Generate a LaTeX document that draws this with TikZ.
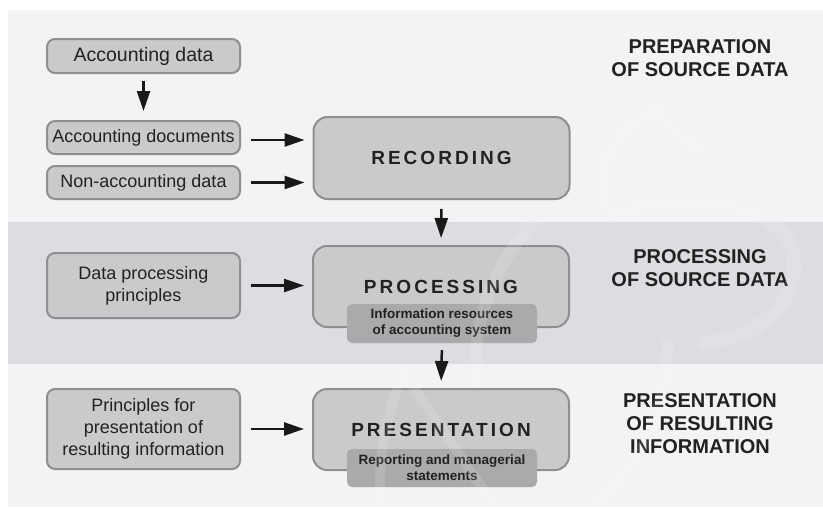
\documentclass[tikz,border=0pt]{standalone}
\usepackage{fontspec}
\setmainfont{Liberation Sans}
\newfontfamily\spaced[LetterSpace=16]{Liberation Sans}
\usetikzlibrary{arrows.meta}
\definecolor{panel}{HTML}{F2F3F5}
\definecolor{band}{HTML}{DCDDE0}
\definecolor{boxfill}{HTML}{C9CACC}
\definecolor{boxline}{HTML}{8E8F91}
\definecolor{subfill}{HTML}{A9AAAC}
\definecolor{ink}{HTML}{222222}
\tikzset{
  smallbox/.style={draw=boxline, line width=2pt, fill=boxfill, rounded corners=8pt,
    minimum width=193pt, inner sep=0pt, align=center, text=ink,
    font=\fontsize{18pt}{22pt}\selectfont},
  bigbox/.style={draw=boxline, line width=2pt, fill=boxfill, rounded corners=14pt,
    minimum width=256pt, minimum height=81pt, inner sep=0pt, text=ink,
    font=\spaced\bfseries\fontsize{19pt}{22pt}\selectfont},
  subbox/.style={fill=subfill, rounded corners=5pt, minimum width=190pt, inner sep=0pt,
    align=center, text=ink, font=\bfseries\fontsize{13.5pt}{16pt}\selectfont},
  sidelabel/.style={align=center, text=ink, inner sep=0pt,
    font=\bfseries\fontsize{20pt}{23pt}\selectfont},
  arr/.style={draw=black!90, line width=2.5pt, -{Triangle[length=20pt,width=13pt]}},
  wmark/.style={draw=white, opacity=0.13, line cap=round}
}
\begin{document}
\begin{tikzpicture}[x=1pt,y=-1pt]
\useasboundingbox (0,0) rectangle (823,507);
\fill[white] (0,0) rectangle (823,507);
\fill[panel] (8,10) rectangle (823,507);
\fill[band] (8,222) rectangle (823,364);

% left inputs
\node[smallbox, minimum height=34pt, font=\fontsize{19.5pt}{22pt}\selectfont] (acd) at (143.5,56) {Accounting data};
\node[smallbox, minimum height=33pt] (adoc) at (143.5,137.5) {Accounting documents};
\node[smallbox, minimum height=33pt] (nad) at (143.5,182.5) {Non-accounting data};
\node[smallbox, minimum height=65pt] (dpp) at (143.5,285.5) {Data processing\\principles};
\node[smallbox, minimum height=80pt] (ppr) at (143.5,429) {Principles for\\presentation of\\resulting information};

% main steps
\node[bigbox, minimum height=82pt] (rec) at (441.5,158) {RECORDING};
\node[bigbox] (proc) at (441,286.5) {PROCESSING};
\node[subbox, minimum height=39pt] (info) at (442,323.5) {Information resources\\of accounting system};
\node[bigbox] (pres) at (441,429.5) {PRESENTATION};
\node[subbox, minimum height=38pt] (rep) at (442,468) {Reporting and managerial\\statements};

% side labels
\node[sidelabel] (l1) at (700,58) {PREPARATION\\OF SOURCE DATA};
\node[sidelabel] (l2) at (700,268.5) {PROCESSING\\OF SOURCE DATA};
\node[sidelabel] (l3) at (700,423.5) {PRESENTATION\\OF RESULTING\\INFORMATION};

% connectors
\draw[arr, shorten <=7pt, shorten >=9pt] (acd.south) -- (adoc.north);
\draw[arr, shorten <=10pt, shorten >=8pt] ([yshift=-2.5pt]adoc.east) -- ([yshift=-2.5pt]adoc.east -| rec.west);
\draw[arr, shorten <=10pt, shorten >=8pt] (nad.east) -- (nad.east -| rec.west);
\draw[arr, shorten <=10pt, shorten >=8pt] (dpp.east) -- (dpp.east -| proc.west);
\draw[arr, shorten <=10pt, shorten >=8pt] (ppr.east) -- (ppr.east -| pres.west);
\draw[arr, shorten <=9pt, shorten >=7pt] (rec.south) -- (proc.north);
\draw[arr, shorten <=7pt, shorten >=7pt] (info.south) -- (pres.north);

% faint watermark
\draw[wmark, line width=14pt] (655,112) -- (698,152);
\draw[wmark, line width=14pt] (655,112) .. controls (605,135) and (585,195) .. (615,215)
  .. controls (660,195) and (760,195) .. (788,240)
  .. controls (808,280) and (780,335) .. (705,343);
\draw[wmark, line width=12pt] (667,343) .. controls (668,410) and (640,470) .. (590,507);
\draw[wmark, line width=12pt] (533,222) .. controls (490,270) and (470,330) .. (478,380);
\draw[wmark, line width=10pt] (403,372) .. controls (385,420) and (378,460) .. (380,507);
\draw[wmark, line width=10pt] (403,372) -- (495,507);
\end{tikzpicture}
\end{document}
